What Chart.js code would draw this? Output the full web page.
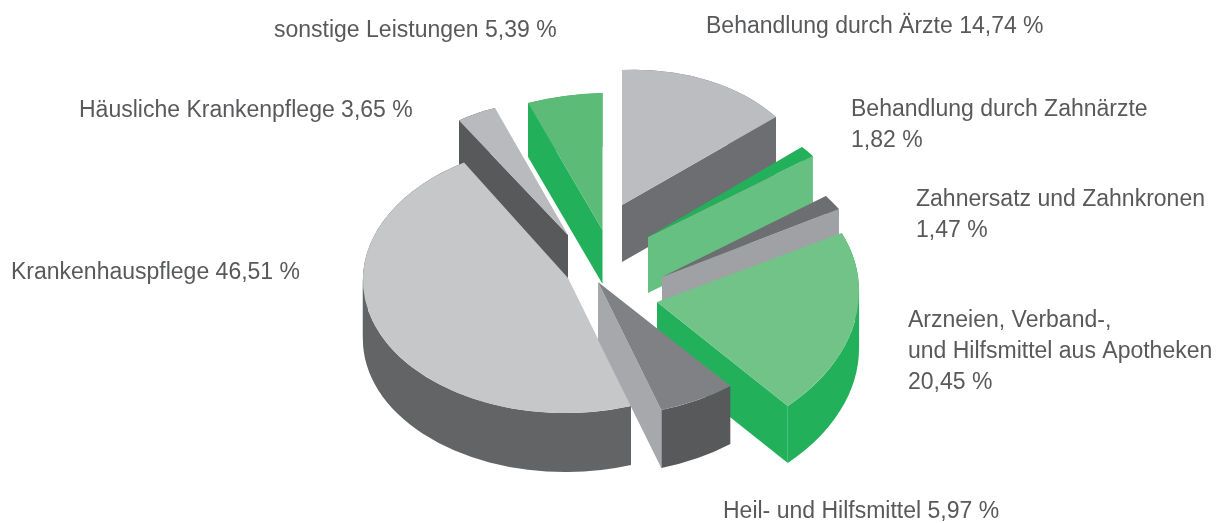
<!DOCTYPE html>
<html><head><meta charset="utf-8">
<script src="https://cdn.jsdelivr.net/npm/chart.js@4"></script>
<style>html,body{margin:0;padding:0;background:#fff}canvas{display:block}</style>
</head><body><canvas id="c" width="1226" height="523"></canvas>
<script>
const categories = ["Behandlung durch Ärzte","Behandlung durch Zahnärzte","Zahnersatz und Zahnkronen","Arzneien, Verband- und Hilfsmittel aus Apotheken","Heil- und Hilfsmittel","Krankenhauspflege","Häusliche Krankenpflege","sonstige Leistungen"];
const values = [14.74,1.82,1.47,20.45,5.97,46.51,3.65,5.39];
const labelLines = [
  ["Behandlung durch Ärzte 14,74 %"],
  ["Behandlung durch Zahnärzte","1,82 %"],
  ["Zahnersatz und Zahnkronen","1,47 %"],
  ["Arzneien, Verband-,","und Hilfsmittel aus Apotheken","20,45 %"],
  ["Heil- und Hilfsmittel 5,97 %"],
  ["Krankenhauspflege 46,51 %"],
  ["Häusliche Krankenpflege 3,65 %"],
  ["sonstige Leistungen 5,39 %"]
];
// styling: top, wall and cut-face colours
const topColors  = ["#bcbdc0","#22b15a","#6d6e71","#71c387","#808184","#c6c7c9","#b9babd","#5cbb76"];
const wallColors = ["#6d6e71","#66c081","#a0a1a4","#22b15a","#58595b","#636466","#58595b","#22b15a"];
const faceEdge   = ["end","end","end","end","end","none","start","start"];
const faceColors = ["#6d6e71","#66c081","#a0a1a4","#22b15a","#a7a8ab","#636466","#58595b","#22b15a"];
const wallDepth  = [57,56,30,57,58,59,44,54];
// styling: explosion of each slice from the pie centre, and perspective of each slice
const explodeX = [9,35,49,44,-15,-45,-45,-10.5];
const explodeY = [-56.5,-24.5,15.5,40.5,20.5,16.5,-26.5,-31.5];
const tiltA = [192.6,186,216.6,202,210,205,181.6,224];
const tiltB = [0,-8.4,45.6,-4,-9,-7.5,13.4,0];
const tiltC = [-8.6,-27.6,-0.5,-7.9,5,3,4.2,-6.6];
const tiltD = [135,113,159.3,145.8,134.4,135,133.2,137];
const paintOrder = [7,6,0,1,2,3,5,4];
const labelX = [706,851,916,908,723,11,79,274];
const labelY = [33,116,206,327,518,279,117,37];
const lineGap = 31;

function applyTilt(ctx, el, i, d){
  const R = el.outerRadius;
  ctx.translate(el.x + explodeX[i], el.y + explodeY[i] + d);
  ctx.transform(tiltA[i]/R, tiltC[i]/R, tiltB[i]/R, tiltD[i]/R, 0, 0);
  ctx.translate(-el.x, -el.y);
}
// the rim is cut where it turns back horizontally, so each ribbon piece stays simple
function rimPieces(el, i){
  const cuts = [el.startAngle];
  const turn = Math.atan2(tiltB[i], tiltA[i]);
  for (let k = -3; k <= 3; k++){
    const a = turn + k*Math.PI;
    if (a > el.startAngle && a < el.endAngle) cuts.push(a);
  }
  cuts.push(el.endAngle);
  cuts.sort((p,q)=>p-q);
  return cuts;
}
const pie3d = {
  id:'pie3d',
  beforeDatasetsDraw(chart){
    const ctx = chart.ctx, arcs = chart.getDatasetMeta(0).data;
    for (const i of paintOrder){
      const el = arcs[i];
      const d = wallDepth[i];
      // outer wall: ribbon between the rim and the rim moved down
      ctx.fillStyle = wallColors[i];
      const cuts = rimPieces(el, i);
      for (let c = 0; c < cuts.length-1; c++){
        ctx.beginPath();
        ctx.save(); applyTilt(ctx, el, i, 0);
        ctx.arc(el.x, el.y, el.outerRadius, cuts[c], cuts[c+1]);
        ctx.restore();
        ctx.save(); applyTilt(ctx, el, i, d);
        ctx.arc(el.x, el.y, el.outerRadius, cuts[c+1], cuts[c], true);
        ctx.restore();
        ctx.closePath(); ctx.fill();
      }
      // visible radial cut
      if (faceEdge[i] !== 'none'){
        const a = faceEdge[i] === 'start' ? el.startAngle : el.endAngle;
        const px = Math.cos(a), py = Math.sin(a);
        const ox = el.x + explodeX[i], oy = el.y + explodeY[i];
        const ex = ox + tiltA[i]*px + tiltB[i]*py, ey = oy + tiltC[i]*px + tiltD[i]*py;
        ctx.fillStyle = faceColors[i];
        ctx.beginPath(); ctx.moveTo(ox,oy); ctx.lineTo(ex,ey); ctx.lineTo(ex,ey+d); ctx.lineTo(ox,oy+d);
        ctx.closePath(); ctx.fill();
      }
      // top surface: the library's own arc element
      ctx.save(); applyTilt(ctx, el, i, 0); el.draw(ctx); ctx.restore();
    }
    ctx.save();
    ctx.font = '23px "Liberation Sans"'; ctx.fillStyle = '#58595b'; ctx.textBaseline='alphabetic'; ctx.textAlign='left';
    labelLines.forEach((lines,i)=>lines.forEach((t,j)=>ctx.fillText(t,labelX[i],labelY[i]+j*lineGap)));
    ctx.restore();
    return false;
  }
};
new Chart(document.getElementById('c'),{
  type:'pie',
  data:{labels:categories,datasets:[{data:values,backgroundColor:topColors,borderWidth:0,radius:200}]},
  options:{responsive:false,animation:false,rotation:0,
    layout:{padding:0},
    plugins:{legend:{display:false},tooltip:{enabled:false},title:{display:false}}},
  plugins:[pie3d]
});
</script></body></html>
